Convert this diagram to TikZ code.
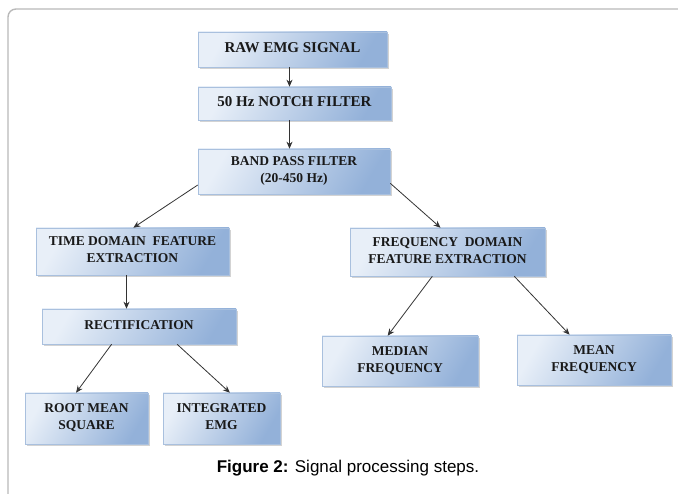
\documentclass[tikz,border=0pt]{standalone}
\usepackage{fontspec}
\setmainfont{Liberation Serif}
\newfontfamily\figfont{Liberation Sans}
\usetikzlibrary{arrows.meta,shadows}
\definecolor{cajaclara}{HTML}{E8EFF8}
\definecolor{cajaoscura}{HTML}{93B1D9}
\definecolor{bordecaja}{HTML}{A9C0DE}
\begin{document}
\begin{tikzpicture}[x=1pt,y=-1pt,
        block/.style={rectangle, draw=bordecaja, line width=0.6pt,
                      left color=cajaclara, right color=cajaoscura, shading angle=60,
                      drop shadow={shadow xshift=2pt, shadow yshift=-2pt, opacity=0.35},
                      text=black!90, align=center, inner sep=0pt, text depth=3pt,
                      font=\bfseries\fontsize{13.5}{17}\selectfont},
        arrow/.style={-{Stealth[length=7pt,width=6pt]}, line width=0.8pt, black!80}
    ]
    \useasboundingbox (0,0) rectangle (678,494);

    % Marco de la figura
    \draw[gray!55, line width=1.4pt, rounded corners=8pt] (678,9) -- (8,9) -- (8,494);

    % Cadena de filtrado
    \node[block, minimum width=189pt, minimum height=35pt,
          font=\bfseries\fontsize{15}{17}\selectfont] (senal) at (292.5,49.5) {RAW EMG SIGNAL};
    \node[block, minimum width=193pt, minimum height=33pt,
          font=\bfseries\fontsize{15}{17}\selectfont] (notch) at (294.5,103.5) {50 Hz NOTCH FILTER};
    \node[block, minimum width=192pt, minimum height=45pt] (pasabanda) at (294,171.5) {BAND PASS FILTER\\(20-450 Hz)};

    % Extraccion de caracteristicas
    \node[block, minimum width=193pt, minimum height=47pt] (tiempo) at (132.5,251.5) {TIME DOMAIN\ \ FEATURE\\EXTRACTION};
    \node[block, minimum width=195pt, minimum height=48pt] (frecuencia) at (447.5,252) {FREQUENCY\ \ DOMAIN\\FEATURE EXTRACTION};
    \node[block, minimum width=194pt, minimum height=35pt] (rectif) at (139,326.5) {RECTIFICATION};
    \node[block, minimum width=156pt, minimum height=50pt] (mediana) at (400,361) {MEDIAN\\FREQUENCY};
    \node[block, minimum width=154pt, minimum height=50pt] (media) at (594,360) {MEAN\\FREQUENCY};
    \node[block, minimum width=123pt, minimum height=51pt] (rms) at (86.5,418.5) {ROOT MEAN\\SQUARE};
    \node[block, minimum width=117pt, minimum height=51pt] (iemg) at (221.5,418.5) {INTEGRATED\\EMG};

    % Flechas
    \draw[arrow] ([xshift=-3pt]senal.south) -- ([xshift=-3pt]senal.south |- notch.north);
    \draw[arrow] ([xshift=-5pt]notch.south) -- ([xshift=-5pt]notch.south |- pasabanda.north);
    \draw[arrow] (pasabanda.188) -- (tiempo.88);
    \draw[arrow] (pasabanda.-7) -- (frecuencia.106);
    \draw[arrow] ([xshift=-6pt]tiempo.south) -- ([xshift=-6pt]tiempo.south |- rectif.north);
    \draw[arrow] (rectif.213) -- (rms.112);
    \draw[arrow] (rectif.-25) -- (iemg.72);
    \draw[arrow] (frecuencia.238) -- (mediana.116);
    \draw[arrow] (frecuencia.-20) -- (media.134);

    % Pie de figura
    \node[font=\figfont\fontsize{17}{20}\selectfont] (pie) at (348,468) {\textbf{Figure 2:} Signal processing steps.};

\end{tikzpicture}
\end{document}
